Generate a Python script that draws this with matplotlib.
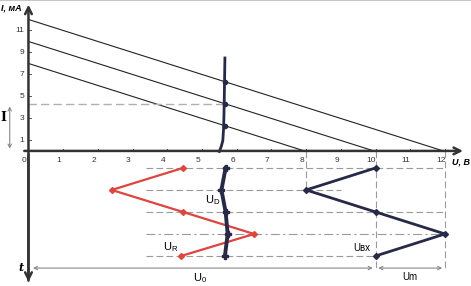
import matplotlib
matplotlib.use("Agg")
import matplotlib.pyplot as plt
import numpy as np

plt.rcParams['font.family'] = ['Liberation Sans', 'DejaVu Sans']

# ---- data ----
x_ticks = list(range(0, 13))
y_ticks = [1, 3, 5, 7, 9, 11]
load_e = [8, 10, 12]                      # E of load lines (U intercept = I intercept)
zener_u = [5.50, 5.56, 5.60, 5.62, 5.63, 5.64, 5.65, 5.66]
zener_i = [0.0, 0.5, 1.0, 2.0, 3.0, 4.5, 6.5, 8.5]
op_u = [5.65, 5.65, 5.65]
op_i = [2.35, 4.35, 6.35]
I_work = 4.35

t_idx = [0, 1, 2, 3, 4]
u_in = [10, 8, 10, 12, 10]
u_r = [4.45, 2.4, 4.45, 6.5, 4.4]
u_d = [5.68, 5.56, 5.68, 5.74, 5.66]
row_end = [12, 9, 12, 12, 10]

def ty(t):
    return -1.5 - 2.0 * np.asarray(t, dtype=float)

fig = plt.figure(figsize=(4.71, 2.86), dpi=100)
ax = fig.add_axes([0, 0, 1, 1])
ax.set_xlim(-0.82, 12.75)
ax.set_ylim(-12.23, 13.77)
ax.axis('off')

axc = '#555555'
navy = '#262a48'
red = '#e0443c'
dash_c = '#9a9a9a'

# frame line top
ax.axhline(13.74, color='#bbbbbb', lw=1.2)

# axes
ax.annotate('', xy=(0, 13.6), xytext=(0, -12.0),
            arrowprops=dict(arrowstyle='->', color='#333333', lw=1.8, mutation_scale=12))
ax.annotate('', xy=(0, -12.1), xytext=(0, 0),
            arrowprops=dict(arrowstyle='->', color='#333333', lw=1.8, mutation_scale=12))
ax.annotate('', xy=(12.6, 0.05), xytext=(-0.2, 0.05),
            arrowprops=dict(arrowstyle='->', color='#333333', lw=1.8, mutation_scale=12))

# ticks
for v in x_ticks:
    ax.plot([v, v], [0, 0.25], color=axc, lw=0.7)
    ax.text(v - 0.12, -0.85, str(v), fontsize=6, ha='center', va='center', color='#333333')
for v in y_ticks:
    ax.plot([0, 0.08], [v, v], color=axc, lw=0.7)
    ax.text(-0.12, v, str(v), fontsize=6, ha='right', va='center', color='#333333')

ax.text(-0.78, 13.05, 'I, мA', fontsize=6.5, style='italic', fontweight='bold', ha='left', va='center')
ax.text(12.72, -0.95, 'U, B', fontsize=6.5, style='italic', fontweight='bold', ha='right', va='center')

# load lines
for e in load_e:
    ax.plot([0, e], [e, 0], color='#222222', lw=0.8)

# operating current dashed
ax.plot([0, op_u[1]], [I_work, I_work], color='#b0b0b0', lw=1, ls=(0, (6, 3)))
ax.annotate('', xy=(-0.54, I_work), xytext=(-0.54, 0),
            arrowprops=dict(arrowstyle='<->', color='#888888', lw=0.8, mutation_scale=6))
ax.text(-0.72, 3.1, 'I', fontsize=9, fontweight='bold', family='DejaVu Serif', ha='center', va='center')

# zener characteristic
ax.plot(zener_u, zener_i, color=navy, lw=2)
ax.plot(op_u, op_i, ls='none', marker='o', ms=3, color=navy)

# lower section dashed rows
tys = ty(t_idx)
for k, (yv, xe) in enumerate(zip(tys, row_end)):
    ls = (0, (8, 3, 2, 3)) if k == 3 else (0, (6, 3))
    ax.plot([3.4, xe], [yv, yv], color=dash_c, lw=0.8, ls=ls)

yb = -10.6
ax.plot([8, 8], [0, ty(1)], color=dash_c, lw=0.8, ls=(0, (6, 3)))
ax.plot([10, 10], [0, yb - 0.3], color=dash_c, lw=0.8, ls=(0, (6, 3)))
ax.plot([12, 12], [0, yb - 0.3], color=dash_c, lw=0.8, ls=(0, (6, 3)))

# bottom dimension arrows
ax.annotate('', xy=(0.05, yb), xytext=(10, yb),
            arrowprops=dict(arrowstyle='<->', color='#888888', lw=0.8, mutation_scale=6))
ax.annotate('', xy=(10, yb), xytext=(12, yb),
            arrowprops=dict(arrowstyle='<->', color='#888888', lw=0.8, mutation_scale=6))

# time diagrams
ax.plot(u_r, tys, color=red, lw=1.6, marker='D', ms=3)
ax.plot(u_in, tys, color=navy, lw=2, marker='D', ms=3)
ax.plot(u_d, tys, color=navy, lw=2.8, marker='P', ms=5)

ax.text(-0.22, -10.55, 't', fontsize=8, style='italic', fontweight='bold', family='DejaVu Serif',
        ha='center', va='center')
ax.text(5.3, -4.4, r'$\mathregular{U_D}$', fontsize=8, ha='center', va='center')
ax.text(4.1, -8.7, r'$\mathregular{U_R}$', fontsize=8, ha='center', va='center')
ax.text(9.6, -8.75, 'Uвх', fontsize=7, ha='center', va='center')
ax.text(4.94, -11.5, r'$\mathregular{U_0}$', fontsize=8, ha='center', va='center')
ax.text(11.0, -11.45, 'Um', fontsize=7, ha='center', va='center')

fig.savefig('out.png', dpi=100)
